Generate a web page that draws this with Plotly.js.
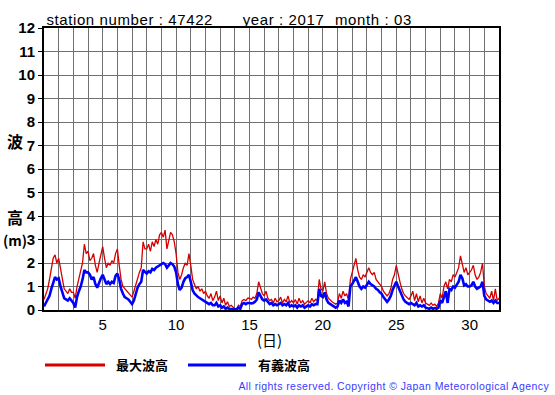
<!DOCTYPE html>
<html><head><meta charset="utf-8">
<script src="https://cdn.plot.ly/plotly-3.0.1.min.js"></script>
<style>body{margin:0;background:#fff}#c{width:555px;height:395px}</style>
</head><body><div id="c"></div>
<script>
// 3-hourly values, day 1 00h .. day 32 00h
var maxWave = [
0.45,0.7,0.9,1.3,1.8,2.2,2.35,2.0,
2.2,1.8,1.3,0.9,0.8,0.7,0.9,0.75,
0.75,0.5,1.0,1.3,1.6,2.0,2.8,2.4,
2.5,2.1,2.2,2.4,1.9,1.6,2.0,2.3,
2.7,2.2,1.8,2.0,1.9,2.1,2.0,2.4,
2.6,1.9,1.3,1.0,0.9,0.8,0.75,0.6,
0.55,0.8,1.1,1.4,1.6,1.8,2.9,2.6,
2.6,2.8,2.5,2.9,2.7,3.0,2.8,3.2,
3.3,3.1,3.4,2.6,3.0,3.3,3.2,2.9,
2.4,1.6,1.3,1.5,1.8,2.0,1.9,2.4,
1.9,1.3,1.1,0.9,1.0,0.8,0.9,0.7,
0.8,0.6,0.5,0.7,0.4,0.55,0.8,0.4,
0.6,0.3,0.5,0.2,0.35,0.15,0.2,0.1,
0.05,0.05,0.2,0.15,0.4,0.45,0.4,0.5,
0.5,0.45,0.55,0.5,0.7,1.2,0.9,0.7,
0.6,0.8,0.5,0.4,0.45,0.3,0.5,0.35,
0.4,0.55,0.3,0.45,0.35,0.6,0.3,0.4,
0.3,0.45,0.25,0.5,0.3,0.4,0.25,0.35,
0.4,0.3,0.5,0.35,0.45,0.4,1.3,0.9,
0.8,1.2,0.7,0.5,0.4,0.35,0.3,0.25,
0.3,0.7,0.5,0.8,0.6,0.7,0.4,1.3,
1.6,1.9,2.2,1.7,1.4,1.3,1.5,1.4,
1.6,1.8,1.6,1.5,1.6,1.3,1.2,1.1,
1.0,0.8,0.7,0.6,0.7,0.9,1.3,1.5,
1.9,1.5,1.2,0.9,0.7,0.6,0.5,0.45,
0.6,0.8,0.4,0.7,0.35,0.6,0.3,0.5,
0.3,0.25,0.2,0.3,0.2,0.25,0.15,0.3,
0.7,0.5,1.0,1.2,0.9,1.3,1.2,1.5,
1.4,1.6,1.8,2.3,2.0,1.6,1.8,1.5,
1.6,1.7,1.9,1.5,1.3,1.4,1.6,2.0,
1.0,0.7,0.6,0.5,0.8,0.4,0.9,0.4,
0.5];
var sigWave = [
0.15,0.3,0.4,0.6,0.9,1.2,1.4,1.3,
1.35,1.0,0.7,0.5,0.45,0.4,0.5,0.4,
0.3,0.1,0.55,0.8,1.0,1.3,1.7,1.6,
1.6,1.5,1.3,1.4,1.1,0.95,1.2,1.35,
1.5,1.3,1.1,1.2,1.1,1.2,1.15,1.45,
1.55,1.3,0.9,0.7,0.55,0.5,0.45,0.35,
0.25,0.4,0.7,0.95,1.1,1.2,1.7,1.6,
1.55,1.65,1.6,1.75,1.7,1.8,1.85,1.9,
1.95,2.0,1.95,1.8,1.9,2.0,1.95,1.85,
1.6,1.1,0.85,0.95,1.2,1.35,1.4,1.5,
1.2,0.85,0.7,0.6,0.55,0.5,0.45,0.4,
0.35,0.3,0.25,0.3,0.2,0.2,0.3,0.15,
0.2,0.1,0.15,0.05,0.1,0.05,0.05,0.02,
0.02,0.02,0.1,0.05,0.25,0.3,0.25,0.3,
0.3,0.28,0.3,0.35,0.45,0.75,0.6,0.45,
0.4,0.45,0.35,0.25,0.3,0.2,0.25,0.2,
0.25,0.3,0.2,0.25,0.2,0.3,0.15,0.2,
0.15,0.2,0.1,0.2,0.15,0.2,0.1,0.15,
0.2,0.15,0.25,0.2,0.25,0.25,0.9,0.6,
0.55,0.75,0.45,0.3,0.25,0.2,0.15,0.1,
0.15,0.4,0.3,0.45,0.3,0.35,0.15,1.0,
1.1,1.25,1.4,1.2,1.0,0.9,1.0,0.95,
1.05,1.2,1.1,1.05,1.0,0.9,0.85,0.75,
0.7,0.55,0.45,0.35,0.45,0.6,0.85,1.0,
1.2,1.0,0.8,0.6,0.45,0.35,0.3,0.25,
0.3,0.25,0.2,0.3,0.15,0.2,0.15,0.2,
0.1,0.08,0.05,0.1,0.05,0.08,0.05,0.1,
0.4,0.3,0.6,0.8,0.3,0.9,0.85,1.0,
0.95,1.1,1.2,1.5,1.35,1.05,1.1,1.0,
1.0,1.05,1.2,1.0,0.9,0.95,1.0,1.2,
0.6,0.45,0.4,0.35,0.4,0.3,0.4,0.3,
0.3];
var gridDays = [1,2,3,4,5,6,7,8,9,10,11,12,13,14,15,16,17,18,19,20,21,22,23,24,25,26,27,28,29,30,31,32];
var dayLabels = [5,10,15,20,25,30];
var yTicks = [0,1,2,3,4,5,6,7,8,9,10,11,12];

var days = maxWave.map(function(_, i){ return 1 + i/8; });

var traces = [
  {x: days, y: maxWave, type:'scatter', mode:'lines', line:{color:'#d40000', width:1.3}, name:'最大波高', hoverinfo:'skip'},
  {x: days, y: sigWave, type:'scatter', mode:'lines', line:{color:'#0000ff', width:2.6}, name:'有義波高', hoverinfo:'skip'}
];

var jp = '"Noto Sans CJK JP", sans-serif';
var ar = '"Liberation Sans", Arial, sans-serif';
function py(p){ return (310 - p) / 282; }
function px(p){ return (p - 44) / 455; }
var layout = {
  width:555, height:395,
  margin:{l:44, r:56, t:28, b:85, pad:0},
  paper_bgcolor:'#fff', plot_bgcolor:'#fff',
  showlegend:false,
  xaxis:{range:[1,32], tickvals:gridDays,
    ticktext:gridDays.map(function(d){ return dayLabels.indexOf(d) >= 0 ? String(d) : ''; }),
    showgrid:true, gridcolor:'#707070', gridwidth:1,
    showline:true, linecolor:'#000', linewidth:2, mirror:true,
    ticks:'', zeroline:false, tickfont:{family:ar, size:15, color:'#000'}},
  yaxis:{range:[0,12], tickvals:yTicks, ticktext:yTicks.map(String),
    showgrid:true, gridcolor:'#707070', gridwidth:1,
    showline:true, linecolor:'#000', linewidth:2, mirror:true,
    ticks:'outside', ticklen:4, tickcolor:'#000', zeroline:false,
    tickfont:{family:ar, size:15, color:'#000', weight:'bold'}},
  annotations:[
    {xref:'paper', yref:'paper', x:px(50.6), y:py(19), xanchor:'left', yanchor:'middle', showarrow:false,
     text:'station number : 47422', font:{family:ar, size:15, color:'#000'}},
    {xref:'paper', yref:'paper', x:px(244), y:py(19), xanchor:'left', yanchor:'middle', showarrow:false,
     text:'year : 2017', font:{family:ar, size:15, color:'#000'}},
    {xref:'paper', yref:'paper', x:px(336), y:py(19), xanchor:'left', yanchor:'middle', showarrow:false,
     text:'month : 03', font:{family:ar, size:15, color:'#000'}},
    {xref:'paper', yref:'paper', x:px(15), y:py(141), xanchor:'center', yanchor:'middle', showarrow:false, text:'波', font:{family:jp, size:16, color:'#000', weight:'bold'}},
    {xref:'paper', yref:'paper', x:px(15), y:py(217), xanchor:'center', yanchor:'middle', showarrow:false, text:'高', font:{family:jp, size:16, color:'#000', weight:'bold'}},
    {xref:'paper', yref:'paper', x:px(15), y:py(240), xanchor:'center', yanchor:'middle', showarrow:false, text:'(m)', font:{family:jp, size:14, color:'#000', weight:'bold'}},
    {xref:'paper', yref:'paper', x:px(269), y:py(339), xanchor:'center', yanchor:'middle', showarrow:false, text:'(日)', font:{family:jp, size:15, color:'#000'}},
    {xref:'paper', yref:'paper', x:px(114), y:py(365), xanchor:'left', yanchor:'middle', showarrow:false, text:'最大波高', font:{family:jp, size:13, color:'#000', weight:'bold'}},
    {xref:'paper', yref:'paper', x:px(256), y:py(365), xanchor:'left', yanchor:'middle', showarrow:false, text:'有義波高', font:{family:jp, size:13, color:'#000', weight:'bold'}},
    {xref:'paper', yref:'paper', x:px(249), y:py(386), xanchor:'left', yanchor:'middle', showarrow:false, text:'All rights reserved. Copyright © Japan Meteorological Agency', font:{family:ar, size:10.5, color:'#3a3aff'}}
  ],
  shapes:[
    {type:'line', xref:'paper', yref:'paper', x0:px(45), x1:px(105), y0:py(365), y1:py(365), line:{color:'#d40000', width:3}},
    {type:'line', xref:'paper', yref:'paper', x0:px(188), x1:px(246), y0:py(365), y1:py(365), line:{color:'#0000ff', width:3}}
  ]
};
Plotly.newPlot('c', traces, layout, {staticPlot:true}).then(function(gd){
  var texts = gd.querySelectorAll('.annotation-text');
  texts.forEach(function(t){
    var s = t.textContent;
    if (s.indexOf('Copyright') >= 0) t.style.letterSpacing = '0.42px';
    else if (s.indexOf('station') >= 0 || s.indexOf('year') >= 0 || s.indexOf('month') >= 0) t.style.letterSpacing = '0.6px';
  });
});
</script></body></html>
